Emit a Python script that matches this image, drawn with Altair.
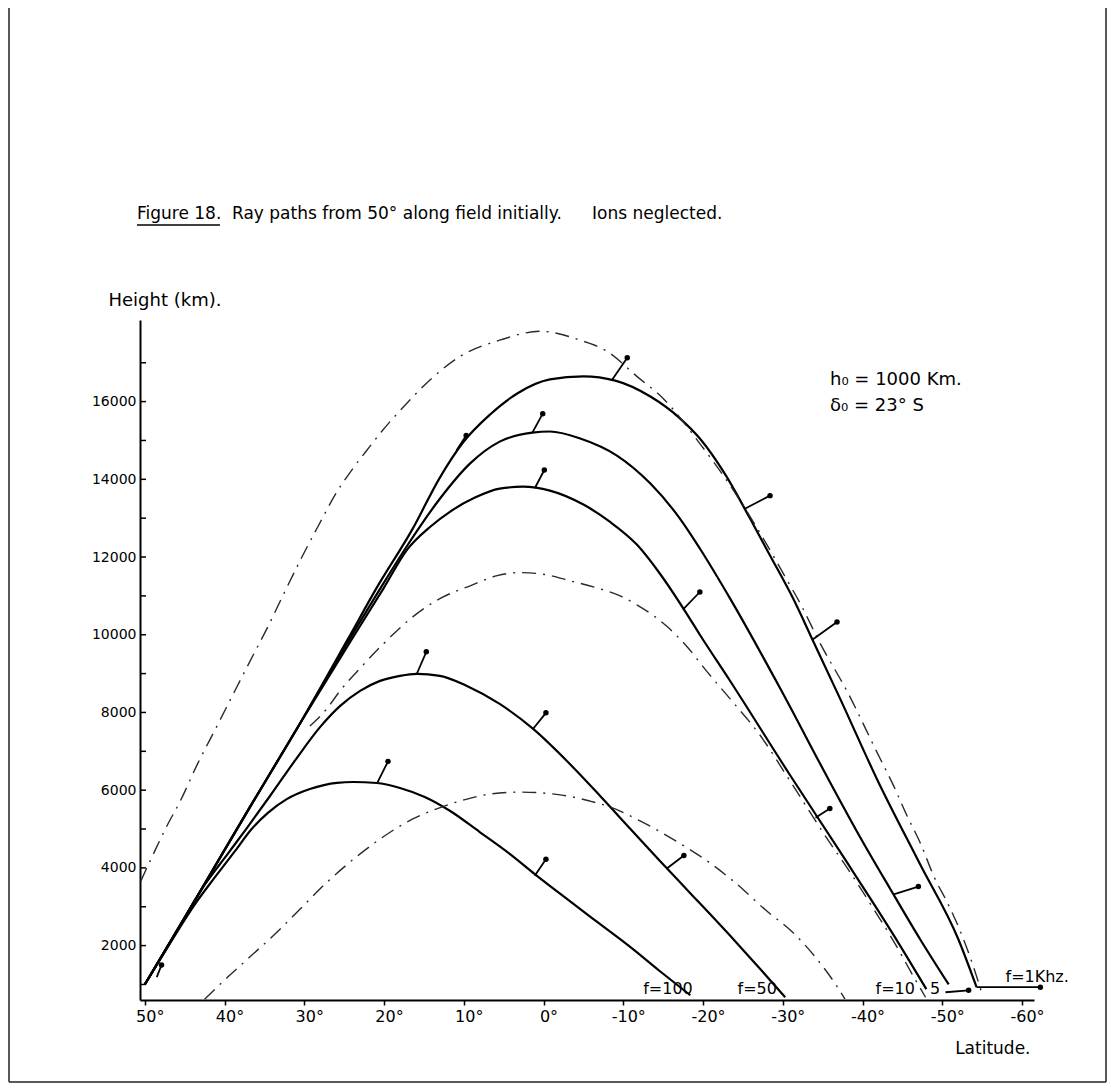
import altair as alt
import pandas as pd

# ---------------- data (latitude in degrees, height in km) ----------------
f100_lat = [50.0, 46.9, 43.7, 41.2, 38.7, 36.6, 34.6, 32.2, 29.3, 25.9, 23.9, 20.9, 18.0, 14.9, 11.7, 8.0, 4.2, 1.1, -3.3, -7.1, -10.9, -14.6, -18.4]
f100_h = [1000, 2040, 3070, 3760, 4430, 5000, 5410, 5770, 6030, 6190, 6210, 6185, 6056, 5824, 5463, 4922, 4355, 3840, 3144, 2551, 1959, 1340, 722]

f50_lat = [50.0, 46.2, 42.5, 39.6, 37.2, 34.3, 31.2, 28.0, 25.5, 23.0, 20.5, 18.0, 15.9, 13.0, 9.6, 5.5, 1.3, -3.3, -7.1, -10.9, -14.6, -18.4, -23.8, -27.2, -30.3]
f50_h = [1000, 2290, 3560, 4360, 5025, 5850, 6752, 7628, 8169, 8556, 8813, 8942, 8994, 8942, 8684, 8221, 7576, 6674, 5850, 5000, 4175, 3350, 2165, 1392, 670]

f10_lat = [50.0, 43.1, 36.8, 30.5, 24.0, 20.1, 17.1, 14.2, 11.7, 8.6, 5.5, 2.6, -0.8, -5.0, -8.3, -11.7, -14.6, -17.8, -19.6, -23.4, -30.9, -37.2, -43.9, -48.0]
f10_h = [1000, 3380, 5570, 7730, 9900, 11180, 12190, 12780, 13170, 13530, 13760, 13810, 13710, 13350, 12910, 12320, 11570, 10590, 10000, 8810, 6390, 4410, 2270, 880]

f5_lat = [50.0, 43.1, 36.8, 30.5, 24.3, 20.5, 17.1, 13.0, 9.2, 5.5, 1.4, -0.8, -4.6, -9.2, -13.4, -17.1, -19.6, -23.4, -29.7, -35.7, -39.7, -43.5, -47.2, -50.8]
f5_h = [1000, 3380, 5570, 7730, 9900, 11180, 12290, 13500, 14410, 14970, 15200, 15230, 15050, 14610, 13890, 12990, 12220, 10930, 8610, 6290, 4790, 3450, 2170, 1000]

f1_lat = [50.0, 43.1, 36.8, 30.5, 24.5, 21.0, 16.4, 13.0, 10.1, 6.7, 3.3, -0.8, -5.0, -9.0, -13.4, -17.1, -19.6, -22.8, -25.9, -28.4, -31.3, -33.8, -37.2, -41.8, -47.2, -52.0, -54.3]
f1_h = [1000, 3380, 5570, 7730, 9900, 11180, 12730, 14045, 14947, 15668, 16209, 16570, 16650, 16540, 16130, 15570, 15050, 14120, 12990, 12040, 10930, 9840, 8350, 6290, 4100, 2170, 930]

outer_lat = [50.5, 49.4, 47.1, 45.6, 43.4, 41.0, 38.7, 36.2, 34.7, 32.7, 30.2, 28.3, 25.9, 23.9, 21.8, 20.3, 17.4, 14.0, 10.5, 5.5, 0.4, -4.6, -8.0, -11.7, -15.0, -19.6, -23.4, -27.2, -30.3, -32.2, -34.7, -38.1, -41.8, -43.9, -45.6, -47.2, -49.1, -50.6, -52.3, -53.8, -55.0]
outer_h = [3660, 4150, 5130, 5700, 6670, 7630, 8560, 9560, 10150, 11000, 12040, 12780, 13680, 14280, 14840, 15230, 15900, 16600, 17160, 17580, 17810, 17580, 17290, 16650, 16080, 14920, 13840, 12600, 11490, 10800, 9770, 8530, 6980, 6110, 5330, 4660, 3710, 3120, 2350, 1520, 750]

middle_lat = [29.3, 27.2, 25.5, 23.4, 20.3, 16.4, 13.0, 9.2, 5.8, 3.0, -0.2, -3.3, -7.1, -9.6, -11.7, -15.5, -18.0, -20.5, -23.4, -27.2, -30.9, -35.6, -38.5, -41.0, -43.9, -46.6, -47.9]
middle_h = [7650, 8090, 8560, 9050, 9720, 10460, 10930, 11260, 11520, 11600, 11550, 11390, 11180, 11000, 10770, 10210, 9690, 9050, 8350, 7400, 6240, 4740, 3870, 3070, 2110, 1130, 670]

lower_lat = [42.5, 39.6, 36.6, 33.4, 30.3, 27.0, 23.0, 19.0, 16.4, 13.4, 9.6, 6.7, 3.0, -2.1, -5.8, -8.3, -12.1, -16.2, -20.5, -23.8, -28.0, -31.2, -34.1, -36.6, -37.8]
lower_h = [620, 1190, 1750, 2350, 2990, 3660, 4360, 4950, 5260, 5520, 5770, 5900, 5950, 5880, 5720, 5570, 5210, 4740, 4180, 3660, 2890, 2350, 1700, 1010, 620]

# wave-normal arrows: foot on the ray, tip
arrow_lat0 = [48.5, 10.9, -8.6, 1.4, 1.1, 15.9, 20.9, 1.3, 1.1, -15.5, -17.5, -33.7, -34.1, -43.9, -25.3, -50.4, -54.3]
arrow_h0 = [1190, 14750, 16560, 15200, 13770, 8990, 6170, 7580, 3800, 3990, 10650, 9870, 5290, 3320, 13250, 800, 930]
arrow_lat1 = [47.9, 9.7, -10.5, 0.1, -0.1, 14.7, 19.5, -0.3, -0.3, -17.6, -19.6, -36.8, -35.9, -47.0, -28.4, -53.3, -62.3]
arrow_h1 = [1500, 15130, 17130, 15690, 14240, 9560, 6740, 7990, 4220, 4320, 11100, 10330, 5530, 3520, 13580, 850, 930]

curve_labels = ["f=100", "f=50", "f=10", "5", "f=1Khz."]
label_lat = [-15.6, -26.8, -44.1, -49.1, -61.9]
label_h = [880, 880, 880, 880, 1190]

x_ticks = [50, 40, 30, 20, 10, 0, -10, -20, -30, -40, -50, -60]
y_labels = [2000, 4000, 6000, 8000, 10000, 12000, 14000, 16000]
y_minor = [1000, 2000, 3000, 4000, 5000, 6000, 7000, 8000, 9000, 10000, 11000, 12000, 13000, 14000, 15000, 16000, 17000]

FONT = "DejaVu Sans"
W, H = 894, 680


def build(curves):
    rows = []
    for name, (la, hh) in curves.items():
        for i, (a, b) in enumerate(zip(la, hh)):
            rows.append({"curve": name, "i": i, "lat": a, "h": b})
    return pd.DataFrame(rows)


solid_df = build({"f100": (f100_lat, f100_h), "f50": (f50_lat, f50_h), "f10": (f10_lat, f10_h),
                  "f5": (f5_lat, f5_h), "f1": (f1_lat, f1_h)})
dashed_df = build({"outer": (outer_lat, outer_h), "middle": (middle_lat, middle_h),
                   "lower": (lower_lat, lower_h)})
arrow_df = pd.DataFrame({"lat0": arrow_lat0, "h0": arrow_h0, "lat1": arrow_lat1, "h1": arrow_h1})
label_df = pd.DataFrame({"text": curve_labels, "lat": label_lat, "h": label_h})
ytick_df = pd.DataFrame({"h": y_minor})
one = pd.DataFrame({"a": [0]})

xscale = alt.Scale(domain=[-61.5, 50.6], reverse=True, nice=False, zero=False)
yscale = alt.Scale(domain=[600, 18100], nice=False, zero=False)

xaxis = alt.Axis(values=x_ticks, labelExpr="datum.value + '°'", grid=False, domainColor="black",
                 domainWidth=2, tickColor="black", tickSize=5, tickWidth=1.5, labelFontSize=16,
                 labelColor="black", labelFont=FONT, labelPadding=3, labelOffset=5, title="Latitude.",
                 titleFont=FONT, titleFontSize=17, titleFontWeight="normal", titleColor="black",
                 titleX=890, titleY=40, titleAlign="right", titleAnchor="end")
yaxis = alt.Axis(values=y_labels, grid=False, domainColor="black", domainWidth=2, ticks=False,
                 labelFontSize=14, labelColor="black", labelFont=FONT, labelPadding=4, format="d",
                 title="Height (km).", titleFont=FONT, titleFontSize=18, titleFontWeight="normal",
                 titleColor="black", titleAngle=0, titleX=-32, titleY=-20, titleAlign="left",
                 titleBaseline="middle")

X = alt.X("lat:Q", scale=xscale, axis=xaxis)
Y = alt.Y("h:Q", scale=yscale, axis=yaxis)

solid = alt.Chart(solid_df).mark_line(color="black", strokeWidth=2.2, interpolate="monotone").encode(
    x=X, y=Y, detail="curve:N", order="i:Q")

dashed = alt.Chart(dashed_df).mark_line(color="#2a2a2a", strokeWidth=1.4, interpolate="monotone",
                                        strokeDash=[14, 7, 2, 7]).encode(
    x=alt.X("lat:Q", scale=xscale), y=alt.Y("h:Q", scale=yscale), detail="curve:N", order="i:Q")

arrows = alt.Chart(arrow_df).mark_rule(color="black", strokeWidth=1.8).encode(
    x=alt.X("lat0:Q", scale=xscale), x2="lat1:Q", y=alt.Y("h0:Q", scale=yscale), y2="h1:Q")

heads = alt.Chart(arrow_df).mark_point(shape="circle", filled=True, color="black", size=30, opacity=1).encode(
    x=alt.X("lat1:Q", scale=xscale), y=alt.Y("h1:Q", scale=yscale))

labels = alt.Chart(label_df).mark_text(font=FONT, fontSize=16, color="black", baseline="middle").encode(
    x=alt.X("lat:Q", scale=xscale), y=alt.Y("h:Q", scale=yscale), text="text:N")

yticks = alt.Chart(ytick_df).mark_rule(color="black", strokeWidth=1.5).encode(
    x=alt.value(0), x2=alt.value(6), y=alt.Y("h:Q", scale=yscale))


def txt(s, x, y, size, align="left", baseline="alphabetic"):
    return alt.Chart(one).mark_text(text=s, font=FONT, fontSize=size, color="black", align=align,
                                    baseline=baseline).encode(x=alt.value(x), y=alt.value(y))


title1 = txt("Figure 18.", -3, -101, 17)
title2 = txt("Ray paths from 50° along field initially.", 92, -101, 17)
title3 = txt("Ions neglected.", 452, -101, 17)
underline = alt.Chart(one).mark_rule(color="black", strokeWidth=1.5).encode(
    x=alt.value(-3), x2=alt.value(80), y=alt.value(-95))
ann1 = txt("h\u2080 = 1000 Km.", 690, 60, 18, baseline="middle")
ann2 = txt("\u03b4\u2080 = 23° S", 690, 86, 18, baseline="middle")

frame_left = alt.Chart(one).mark_rule(color="#222", strokeWidth=1.5).encode(
    x=alt.value(-131), y=alt.value(-312), y2=alt.value(762))
frame_right = alt.Chart(one).mark_rule(color="#222", strokeWidth=1.5).encode(
    x=alt.value(966), y=alt.value(-312), y2=alt.value(762))
frame_bottom = alt.Chart(one).mark_rule(color="#222", strokeWidth=1.5).encode(
    x=alt.value(-131), x2=alt.value(966), y=alt.value(762))

chart = alt.layer(
    solid, dashed, arrows, heads, labels, yticks,
    title1, title2, title3, underline, ann1, ann2,
    frame_left, frame_right, frame_bottom,
).properties(
    width=W, height=H,
    padding={"left": 132, "top": 312, "right": 76, "bottom": 84},
    autosize=alt.AutoSizeParams(type="none"),
    background="white",
).configure(font=FONT, view=alt.ViewConfig(stroke=None))

chart.save("out.html", embed_options={"renderer": "svg", "actions": False})
